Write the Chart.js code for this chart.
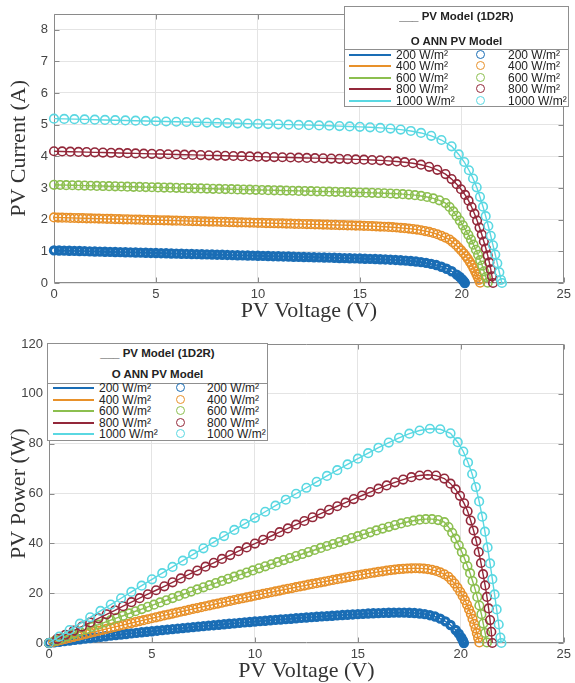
<!DOCTYPE html>
<html>
<head>
<meta charset="utf-8">
<script src="https://cdn.jsdelivr.net/npm/chart.js@4.4.1/dist/chart.umd.min.js"></script>
<style>
  body { margin: 0; background: #fff; width: 575px; height: 683px; position: relative; overflow: hidden; }
  .panel { position: absolute; left: 0; }
  .panel canvas { display: block; }
  .legend { position: absolute; background: #fff; border: 1px solid #8f8f8f; box-sizing: border-box;
            font-family: "Liberation Sans", Arial, sans-serif; color: #222; }
  .legend .hdr { position: absolute; left: 0; right: 0; text-align: center; font-weight: bold;
                 font-size: 11.5px; line-height: 14px; white-space: nowrap; }
  .legend .sep { position: absolute; left: 0; right: 0; height: 0; border-top: 1px solid #8f8f8f; }
  .legend .swl { position: absolute; height: 2px; }
  .legend .swo { position: absolute; width: 7px; height: 7px; border: 1.5px solid; border-radius: 50%; }
  .legend .lbl { position: absolute; font-size: 12px; line-height: 14px; white-space: nowrap; }
</style>
</head>
<body>
<div class="panel" style="top:0;width:575px;height:330px"><canvas id="ivChart" width="575" height="330"></canvas></div>
<div class="panel" style="top:330px;width:575px;height:353px"><canvas id="pvChart" width="575" height="353"></canvas></div>
<div class="legend" id="ivLegend"></div>
<div class="legend" id="pvLegend"></div>

<script>
// irradiance levels (legend text)
const irradiance = ["200 W/m²", "400 W/m²", "600 W/m²", "800 W/m²", "1000 W/m²"];

// ---- 200 W/m² ----
const volt200 = [0,0.25,0.5,0.75,1,1.25,1.5,1.75,2,2.25,2.5,2.75,3,3.25,3.5,3.75,4,4.25,4.5,4.75,
  5,5.25,5.5,5.75,6,6.25,6.5,6.75,7,7.25,7.5,7.75,8,8.25,8.5,8.75,9,9.25,9.5,9.75,
  10,10.25,10.5,10.75,11,11.25,11.5,11.75,12,12.25,12.5,12.75,13,13.25,13.5,13.75,14,14.25,14.5,14.75,
  15,15.25,15.5,15.75,16,16.25,16.5,16.75,17,17.25,17.5,17.75,18,18.25,18.5,18.75,19,19.25,19.5,19.75,
  19.9,20.02,20.1,20.15];
const amp200 = [1.03,1.026,1.022,1.017,1.013,1.009,1.005,1.0,0.996,0.992,
  0.988,0.983,0.979,0.975,0.971,0.966,0.962,0.958,0.954,0.949,
  0.945,0.941,0.937,0.932,0.928,0.924,0.92,0.915,0.911,0.907,
  0.903,0.898,0.894,0.89,0.886,0.881,0.877,0.873,0.869,0.864,
  0.86,0.856,0.852,0.847,0.843,0.839,0.835,0.83,0.826,0.822,
  0.818,0.813,0.809,0.805,0.8,0.796,0.791,0.787,0.782,0.777,
  0.772,0.767,0.762,0.757,0.75,0.744,0.736,0.728,0.718,0.707,
  0.694,0.678,0.658,0.634,0.603,0.566,0.514,0.451,0.37,0.265,
  0.19,0.11,0.05,0];
const watt200 = [0,0.26,0.51,0.76,1.01,1.26,1.51,1.75,1.99,2.23,
  2.47,2.7,2.94,3.17,3.4,3.62,3.85,4.07,4.29,4.51,
  4.73,4.94,5.15,5.36,5.57,5.78,5.98,6.18,6.38,6.58,
  6.77,6.96,7.15,7.34,7.53,7.71,7.89,8.08,8.26,8.42,
  8.6,8.77,8.95,9.11,9.27,9.44,9.6,9.75,9.91,10.07,
  10.23,10.37,10.52,10.67,10.8,10.95,11.07,11.22,11.34,11.46,
  11.58,11.7,11.81,11.92,12.0,12.09,12.14,12.19,12.21,12.2,
  12.15,12.04,11.84,11.57,11.16,10.61,9.77,8.68,7.22,5.23,
  3.78,2.2,1.0,0];

// ---- 400 W/m² ----
const volt400 = [0,0.2,0.4,0.6,0.8,1,1.2,1.4,1.6,1.8,2,2.2,2.4,2.6,2.8,3,3.2,3.4,3.6,3.8,
  4,4.2,4.4,4.6,4.8,5,5.2,5.4,5.6,5.8,6,6.2,6.4,6.6,6.8,7,7.2,7.4,7.6,7.8,
  8,8.2,8.4,8.6,8.8,9,9.2,9.4,9.6,9.8,10,10.2,10.4,10.6,10.8,11,11.2,11.4,11.6,11.8,
  12,12.2,12.4,12.6,12.8,13,13.2,13.4,13.6,13.8,14,14.2,14.4,14.6,14.8,15,15.2,15.4,15.6,15.8,
  16,16.2,16.4,16.6,16.8,17,17.2,17.4,17.6,17.8,18,18.2,18.4,18.6,18.8,19,19.2,19.4,
  19.55,19.7,19.84,19.97,20.09,20.2,20.3,20.4,20.49,20.57,20.65,20.72,20.78,20.84,20.9];
const amp400 = [2.07,2.067,2.063,2.06,2.056,2.053,2.05,2.046,2.043,2.039,
  2.036,2.033,2.029,2.026,2.022,2.019,2.016,2.012,2.009,2.005,
  2.002,1.999,1.995,1.992,1.988,1.985,1.982,1.978,1.975,1.971,
  1.968,1.965,1.961,1.958,1.954,1.951,1.948,1.944,1.941,1.937,
  1.934,1.931,1.927,1.924,1.92,1.917,1.914,1.91,1.907,1.903,
  1.9,1.897,1.893,1.89,1.886,1.883,1.88,1.876,1.873,1.869,
  1.866,1.863,1.859,1.856,1.852,1.848,1.844,1.841,1.837,1.833,
  1.83,1.826,1.822,1.818,1.814,1.809,1.805,1.8,1.795,1.789,
  1.783,1.776,1.769,1.762,1.753,1.742,1.731,1.718,1.703,1.686,
  1.665,1.641,1.613,1.579,1.539,1.491,1.435,1.37,
  1.29,1.21,1.12,1.03,0.94,0.85,0.76,0.66,0.57,0.47,0.37,0.28,0.19,0.1,0.01];
const watt400 = [0,0.41,0.83,1.24,1.64,2.05,2.46,2.86,3.27,3.67,
  4.07,4.47,4.87,5.27,5.66,6.06,6.45,6.84,7.23,7.62,
  8.01,8.4,8.78,9.16,9.54,9.93,10.31,10.68,11.06,11.43,
  11.81,12.18,12.55,12.92,13.29,13.66,14.03,14.39,14.75,15.11,
  15.47,15.83,16.19,16.55,16.9,17.25,17.61,17.95,18.31,18.65,
  19.0,19.35,19.69,20.03,20.37,20.71,21.06,21.39,21.73,22.05,
  22.39,22.73,23.05,23.39,23.71,24.02,24.34,24.67,24.98,25.3,
  25.62,25.93,26.24,26.54,26.85,27.14,27.44,27.72,28.0,28.27,
  28.53,28.77,29.01,29.25,29.45,29.61,29.77,29.89,29.97,30.01,
  29.97,29.87,29.68,29.37,28.93,28.33,27.55,26.58,
  25.22,23.84,22.22,20.57,18.88,17.17,15.43,13.46,11.68,9.67,7.64,5.8,3.95,2.08,0.21];

// ---- 600 W/m² ----
const volt600 = [0,0.3,0.6,0.9,1.2,1.5,1.8,2.1,2.4,2.7,3,3.3,3.6,3.9,4.2,4.5,4.8,5.1,5.4,5.7,
  6,6.3,6.6,6.9,7.2,7.5,7.8,8.1,8.4,8.7,9,9.3,9.6,9.9,10.2,10.5,10.8,11.1,11.4,11.7,
  12,12.3,12.6,12.9,13.2,13.5,13.8,14.1,14.4,14.7,15,15.3,15.6,15.9,16.2,16.5,16.8,17.1,17.4,17.7,
  18,18.3,18.6,18.9,19.2,
  19.4,19.58,19.74,19.9,20.05,20.19,20.32,20.45,20.57,20.69,20.8,20.9,21,21.09,21.18,21.27];
const amp600 = [3.1,3.095,3.09,3.086,3.081,3.076,3.071,3.066,3.062,3.057,
  3.052,3.047,3.042,3.038,3.033,3.028,3.023,3.018,3.014,3.009,
  3.004,2.999,2.994,2.99,2.985,2.98,2.975,2.97,2.966,2.961,
  2.956,2.951,2.946,2.942,2.937,2.932,2.927,2.922,2.918,2.913,
  2.908,2.903,2.898,2.894,2.889,2.884,2.879,2.874,2.869,2.864,
  2.858,2.853,2.847,2.841,2.834,2.826,2.816,2.805,2.791,2.773,
  2.749,2.716,2.672,2.611,2.525,
  2.4,2.26,2.12,1.97,1.82,1.67,1.52,1.37,1.21,1.05,0.89,0.72,0.55,0.37,0.19,0.01];
const watt600 = [0,0.93,1.85,2.78,3.7,4.61,5.53,6.44,7.35,8.25,
  9.16,10.06,10.95,11.85,12.74,13.63,14.51,15.39,16.28,17.15,
  18.02,18.89,19.76,20.63,21.49,22.35,23.21,24.06,24.91,25.76,
  26.6,27.44,28.28,29.13,29.96,30.79,31.61,32.43,33.27,34.08,
  34.9,35.71,36.51,37.33,38.14,38.93,39.73,40.52,41.31,42.1,
  42.87,43.65,44.41,45.17,45.91,46.63,47.31,47.97,48.56,49.08,
  49.48,49.7,49.7,49.35,48.48,
  46.56,44.25,41.85,39.2,36.49,33.72,30.89,28.02,24.89,21.72,18.51,15.05,11.55,7.8,4.02,0.21];

// ---- 800 W/m² ----
const volt800 = [0,0.4,0.8,1.2,1.6,2,2.4,2.8,3.2,3.6,4,4.4,4.8,5.2,5.6,6,6.4,6.8,7.2,7.6,
  8,8.4,8.8,9.2,9.6,10,10.4,10.8,11.2,11.6,12,12.4,12.8,13.2,13.6,14,14.4,14.8,15.2,15.6,
  16,16.4,16.8,17.2,17.6,18,18.4,18.8,19.2,
  19.5,19.75,19.96,20.16,20.33,20.48,20.62,20.75,20.87,20.98,21.08,21.18,21.27,21.35,21.42,21.48,21.53];
const amp800 = [4.16,4.153,4.146,4.14,4.133,4.126,4.119,4.112,4.106,4.099,
  4.092,4.085,4.078,4.072,4.065,4.058,4.051,4.044,4.038,4.031,
  4.024,4.017,4.01,4.004,3.997,3.99,3.983,3.976,3.97,3.963,
  3.956,3.949,3.942,3.936,3.929,3.92,3.912,3.903,3.895,3.884,
  3.872,3.857,3.838,3.814,3.781,3.735,3.669,3.574,3.438,
  3.28,3.12,2.96,2.78,2.6,2.4,2.19,1.97,1.75,1.53,1.31,1.09,0.87,0.65,0.43,0.21,0];
const watt800 = [0,1.66,3.32,4.97,6.61,8.25,9.89,11.51,13.14,14.76,
  16.37,17.97,19.57,21.17,22.76,24.35,25.93,27.5,29.07,30.64,
  32.19,33.74,35.29,36.84,38.37,39.9,41.42,42.94,44.46,45.97,
  47.47,48.97,50.46,51.96,53.43,54.88,56.33,57.76,59.2,60.59,
  61.95,63.25,64.48,65.6,66.55,67.23,67.51,67.19,66.01,
  63.96,61.62,59.08,56.04,52.86,49.15,45.16,40.88,36.52,32.1,27.61,23.09,18.5,13.88,9.21,4.51,0];

// ---- 1000 W/m² ----
const volt1000 = [0,0.5,1,1.5,2,2.5,3,3.5,4,4.5,5,5.5,6,6.5,7,7.5,8,8.5,9,9.5,
  10,10.5,11,11.5,12,12.5,13,13.5,14,14.5,15,15.5,16,16.5,17,17.5,18,18.5,19,19.5,
  19.85,20.12,20.35,20.55,20.73,20.89,21.04,21.17,21.3,21.42,21.53,21.64,21.74,21.84,21.92,21.97];
const amp1000 = [5.19,5.182,5.174,5.165,5.157,5.149,5.141,5.132,5.124,5.116,
  5.108,5.099,5.091,5.083,5.075,5.066,5.058,5.05,5.042,5.033,
  5.025,5.017,5.009,5.0,4.992,4.984,4.976,4.967,4.954,4.943,
  4.931,4.916,4.898,4.875,4.844,4.8,4.738,4.648,4.515,4.315,
  4.06,3.82,3.56,3.3,3.02,2.72,2.41,2.11,1.8,1.49,1.19,0.9,0.62,0.34,0.1,0];
const watt1000 = [0,2.59,5.17,7.75,10.31,12.87,15.42,17.96,20.5,23.02,
  25.54,28.04,30.55,33.04,35.53,38.0,40.46,42.93,45.38,47.81,
  50.25,52.68,55.1,57.5,59.9,62.3,64.69,67.05,69.36,71.67,
  73.97,76.2,78.37,80.44,82.35,84.0,85.28,85.99,85.79,84.14,
  80.59,76.86,72.45,67.82,62.6,56.82,50.71,44.67,38.34,31.92,25.62,19.48,13.48,7.43,2.19,0];

const voltages = [volt200, volt400, volt600, volt800, volt1000];
const currents = [amp200, amp400, amp600, amp800, amp1000];
const powers = [watt200, watt400, watt600, watt800, watt1000];

const colors = ["#1a6db5", "#e8912a", "#8cbf4f", "#93283a", "#5ad8e2"];

const tickFont = { family: '"Liberation Sans", Arial, sans-serif', size: 13 };
const titleFont = { family: '"Liberation Serif", "Times New Roman", serif', size: 22, lineHeight: 1 };
const tickColor = "#454545";
const gridColor = "#e4e4e4";

// matlab-like box with inward ticks
const boxPlugin = {
  id: "matlabBox",
  beforeDatasetsDraw(chart) {
    const { ctx, chartArea: a, scales: { x, y } } = chart;
    const L = Math.round(a.left) + 0.5, R = Math.round(a.right) - 0.5;
    const T = Math.round(a.top) + 0.5, B = Math.round(a.bottom) - 0.5;
    ctx.save();
    ctx.strokeStyle = "#8a8a8a";
    ctx.lineWidth = 1;
    ctx.beginPath();
    ctx.rect(L, T, R - L, B - T);
    x.ticks.forEach(t => {
      const px = Math.round(x.getPixelForValue(t.value)) + 0.5;
      ctx.moveTo(px, B); ctx.lineTo(px, B - 5);
      ctx.moveTo(px, T); ctx.lineTo(px, T + 5);
    });
    y.ticks.forEach(t => {
      const py = Math.round(y.getPixelForValue(t.value)) + 0.5;
      ctx.moveTo(L, py); ctx.lineTo(L + 5, py);
      ctx.moveTo(R, py); ctx.lineTo(R - 5, py);
    });
    ctx.stroke();
    ctx.restore();
  }
};

function makeChart(id, ys, opt) {
  const datasets = voltages.map((vs, k) => ({
    label: irradiance[k],
    data: vs.map((v, i) => ({ x: v, y: ys[k][i] })),
    showLine: true,
    borderColor: colors[k],
    borderWidth: 1.4,
    pointStyle: "circle",
    pointRadius: k === 0 ? 3.6 : 4.3,
    pointBorderWidth: k === 0 ? 3.2 : 1.6,
    pointBackgroundColor: "rgba(0,0,0,0)",
    pointBorderColor: colors[k],
    pointHoverRadius: 4,
    clip: false,
    order: 4 - k
  }));

  return new Chart(document.getElementById(id), {
    type: "scatter",
    data: { datasets },
    options: {
      responsive: false,
      animation: false,
      devicePixelRatio: 1,
      layout: { padding: opt.pad },
      plugins: { legend: { display: false }, tooltip: { enabled: false } },
      scales: {
        x: {
          type: "linear", min: 0, max: 25,
          ticks: { stepSize: 5, padding: 4, color: tickColor, font: tickFont, includeBounds: false },
          grid: { color: gridColor, drawTicks: false },
          border: { display: false },
          title: { display: true, text: "PV Voltage (V)", color: "#333", font: titleFont,
                   padding: { top: 0, bottom: opt.xTitlePad } },
          afterFit: s => { s.height = opt.xh; }
        },
        y: {
          type: "linear", min: 0, max: opt.ymax,
          ticks: { stepSize: opt.ystep, padding: 6, color: tickColor, font: tickFont, includeBounds: false },
          grid: { color: gridColor, drawTicks: false },
          border: { display: false },
          title: { display: true, text: opt.ytitle, color: "#333", font: titleFont,
                   padding: { top: 8, bottom: 0 } },
          afterFit: s => { s.width = opt.yw; }
        }
      }
    },
    plugins: [boxPlugin]
  });
}

makeChart("ivChart", currents, {
  pad: { top: 7, right: 7, left: 0, bottom: 0 },
  xh: 47, yw: 54, xTitlePad: 8, ymax: 8.5, ystep: 1, ytitle: "PV Current (A)"
});
makeChart("pvChart", powers, {
  pad: { top: 14, right: 7, left: 0, bottom: 0 },
  xh: 40, yw: 49, xTitlePad: 1, ymax: 120, ystep: 20, ytitle: "PV Power (W)"
});

function buildLegend(id, c) {
  const box = document.getElementById(id);
  box.style.left = c.left + "px";
  box.style.top = c.top + "px";
  box.style.width = c.width + "px";
  box.style.height = c.height + "px";
  let html = `<div class="hdr" style="top:${c.h1 - 8}px">___ PV Model (1D2R)</div>`;
  html += `<div class="hdr" style="top:${c.h2 - 8}px">O ANN PV Model</div>`;
  html += `<div class="sep" style="top:${c.sep}px"></div>`;
  irradiance.forEach((lab, k) => {
    const y = Math.round(c.row0 + k * c.step);
    html += `<div class="swl" style="top:${y - 2}px;left:${c.l0}px;width:${c.l1 - c.l0}px;background:${colors[k]}"></div>`;
    html += `<span class="lbl" style="top:${y - 8}px;left:${c.t1}px">${lab}</span>`;
    html += `<div class="swo" style="top:${y - 6}px;left:${c.dot - 5}px;border-color:${colors[k]}"></div>`;
    html += `<span class="lbl" style="top:${y - 8}px;left:${c.t2}px">${lab}</span>`;
  });
  box.innerHTML = html;
}

buildLegend("ivLegend", { left: 344, top: 6, width: 225, height: 101, h1: 10, h2: 35, sep: 42,
  row0: 48.5, step: 11.5, l0: 4, l1: 46, t1: 51, dot: 136, t2: 163 });
buildLegend("pvLegend", { left: 47, top: 343, width: 221, height: 98, h1: 10, h2: 31, sep: 39,
  row0: 45, step: 11.5, l0: 5, l1: 46, t1: 51, dot: 133, t2: 159 });
</script>
</body>
</html>
